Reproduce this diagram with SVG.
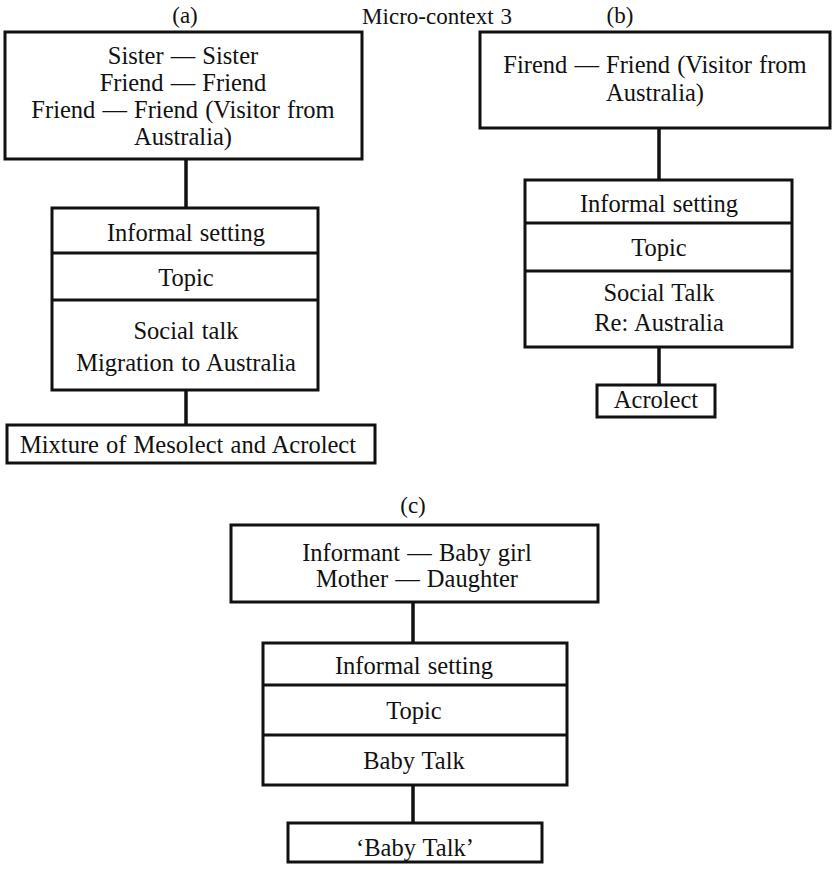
<svg xmlns="http://www.w3.org/2000/svg" width="833" height="869" viewBox="0 0 833 869">
  <style>
    .box { fill: #ffffff; stroke: #111111; stroke-width: 3; }
    .div { stroke: #111111; stroke-width: 3; fill: none; }
    .link { stroke: #111111; stroke-width: 3.5; fill: none; }
    text { font-family: "Liberation Serif", "Times New Roman", serif; font-size: 24.5px; fill: #111111; text-anchor: middle; word-spacing: 1px; }
    .head { font-size: 23px; }
  </style>
  <rect width="833" height="869" fill="#ffffff"/>

  <!-- Headings -->
  <g id="headings">
    <text class="head" x="185" y="23">(a)</text>
    <text class="head" x="437" y="24">Micro-context 3</text>
    <text class="head" x="620" y="23">(b)</text>
    <text class="head" x="413" y="513">(c)</text>
  </g>

  <!-- Connectors -->
  <g id="connectors">
    <line class="link" x1="186" y1="159" x2="186" y2="208"/>
    <line class="link" x1="186" y1="390" x2="186" y2="425"/>
    <line class="link" x1="659" y1="128" x2="659" y2="180"/>
    <line class="link" x1="659" y1="347" x2="659" y2="385"/>
    <line class="link" x1="413" y1="602" x2="413" y2="643"/>
    <line class="link" x1="413" y1="785" x2="413" y2="823"/>
  </g>

  <!-- (a) participants -->
  <g id="a-participants">
    <rect class="box" x="5" y="32" width="357" height="127"/>
    <text x="183" y="64">Sister — Sister</text>
    <text x="183" y="91">Friend — Friend</text>
    <text x="183" y="118">Friend — Friend (Visitor from</text>
    <text x="183" y="145">Australia)</text>
  </g>

  <!-- (a) setting / topic stack -->
  <g id="a-context">
    <rect class="box" x="52" y="208" width="266" height="182"/>
    <line class="div" x1="52" y1="253" x2="318" y2="253"/>
    <line class="div" x1="52" y1="300" x2="318" y2="300"/>
    <text x="186" y="241">Informal setting</text>
    <text x="186" y="286">Topic</text>
    <text x="186" y="339">Social talk</text>
    <text x="186" y="371">Migration to Australia</text>
  </g>

  <!-- (a) outcome -->
  <g id="a-outcome">
    <rect class="box" x="7" y="425" width="368" height="38"/>
    <text x="188" y="453">Mixture of Mesolect and Acrolect</text>
  </g>

  <!-- (b) participants -->
  <g id="b-participants">
    <rect class="box" x="480" y="32" width="350" height="96"/>
    <text x="655" y="73">Firend — Friend (Visitor from</text>
    <text x="655" y="101">Australia)</text>
  </g>

  <!-- (b) setting / topic stack -->
  <g id="b-context">
    <rect class="box" x="525" y="180" width="267" height="167"/>
    <line class="div" x1="525" y1="223" x2="792" y2="223"/>
    <line class="div" x1="525" y1="271" x2="792" y2="271"/>
    <text x="659" y="212">Informal setting</text>
    <text x="659" y="256">Topic</text>
    <text x="659" y="301">Social Talk</text>
    <text x="659" y="331">Re: Australia</text>
  </g>

  <!-- (b) outcome -->
  <g id="b-outcome">
    <rect class="box" x="597" y="385" width="118" height="32"/>
    <text x="656" y="408">Acrolect</text>
  </g>

  <!-- (c) participants -->
  <g id="c-participants">
    <rect class="box" x="231" y="525" width="367" height="77"/>
    <text x="417" y="561">Informant — Baby girl</text>
    <text x="417" y="587">Mother — Daughter</text>
  </g>

  <!-- (c) setting / topic stack -->
  <g id="c-context">
    <rect class="box" x="263" y="643" width="304" height="142"/>
    <line class="div" x1="263" y1="685" x2="567" y2="685"/>
    <line class="div" x1="263" y1="735" x2="567" y2="735"/>
    <text x="414" y="674">Informal setting</text>
    <text x="414" y="719">Topic</text>
    <text x="414" y="769">Baby Talk</text>
  </g>

  <!-- (c) outcome -->
  <g id="c-outcome">
    <rect class="box" x="288" y="823" width="254" height="39"/>
    <text x="415" y="856">‘Baby Talk’</text>
  </g>
</svg>
